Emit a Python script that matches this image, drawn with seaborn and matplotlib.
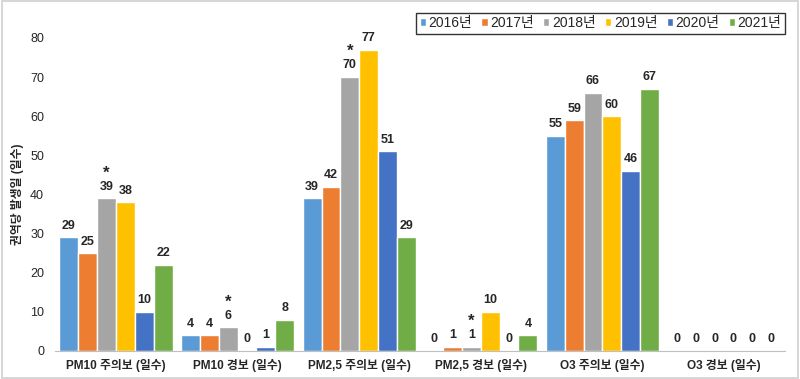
import numpy as np
import pandas as pd
import seaborn as sns
import matplotlib.pyplot as plt
from matplotlib.patches import Rectangle

# data
categories = ["PM10 주의보 (일수)", "PM10 경보 (일수)", "PM2,5 주의보 (일수)",
              "PM2,5 경보 (일수)", "O3 주의보 (일수)", "O3 경보 (일수)"]
years = ["2016년", "2017년", "2018년", "2019년", "2020년", "2021년"]
v2016 = [29, 4, 39, 0, 55, 0]
v2017 = [25, 4, 42, 1, 59, 0]
v2018 = [39, 6, 70, 1, 66, 0]
v2019 = [38, 0, 77, 10, 60, 0]
v2020 = [10, 1, 51, 0, 46, 0]
v2021 = [22, 8, 29, 4, 67, 0]
star_2018 = [True, True, True, True, False, False]
colors = ["#5B9BD5", "#ED7D31", "#A5A5A5", "#FFC000", "#4472C4", "#70AD47"]

rows = []
for y, vals in zip(years, [v2016, v2017, v2018, v2019, v2020, v2021]):
    for c, v in zip(categories, vals):
        rows.append({"cat": c, "year": y, "days": v})
df = pd.DataFrame(rows)

sns.set_style("white")
plt.rcParams['font.family'] = ['Liberation Sans', 'Noto Sans CJK KR', 'DejaVu Sans']

fig = plt.figure(figsize=(8, 3.79), dpi=100)
ax = fig.add_axes([0.069, 0.074, 0.912, 0.826])

sns.barplot(data=df, x="cat", y="days", hue="year", palette=colors,
            order=categories, hue_order=years, width=0.93, gap=0,
            saturation=1, errorbar=None, ax=ax, legend=True)

ax.set_ylim(0, 80)
ax.set_xlim(-0.5, len(categories) - 0.5)
ax.set_yticks(range(0, 81, 10))
ax.tick_params(axis='y', length=0, labelsize=9, pad=8)
ax.tick_params(axis='x', length=0, labelsize=8.5, pad=6)
for t in ax.get_xticklabels():
    t.set_fontweight('bold')
ax.set_xlabel("")
ax.set_ylabel("권역당 발생일 (일수)", fontsize=8.5, fontweight='bold')
ax.yaxis.set_label_coords(-0.043, 0.5)
for s in ["top", "right", "left"]:
    ax.spines[s].set_visible(False)
ax.spines["bottom"].set_color("#bfbfbf")

# value labels
for i, cont in enumerate(ax.containers):
    ax.bar_label(cont, fmt="%d", padding=4, fontsize=9, fontweight='bold',
                 clip_on=False)
    if years[i] == "2018년":
        for bar, st in zip(cont, star_2018):
            if st:
                ax.annotate("*", (bar.get_x() + bar.get_width() / 2, bar.get_height()),
                            xytext=(0, 13), textcoords="offset points",
                            ha="center", va="bottom", fontsize=12, fontweight='bold')

# legend
h, l = ax.get_legend_handles_labels()
ax.get_legend().remove()
leg = fig.legend(h, l, loc="upper right", bbox_to_anchor=(0.99, 0.985), ncol=6,
                 frameon=True, fancybox=False, edgecolor="black", fontsize=10,
                 handlelength=0.45, handleheight=0.45, handletextpad=0.2,
                 columnspacing=0.65, borderpad=0.25)
leg.get_frame().set_linewidth(1.0)

fig.patches.append(Rectangle((0.002, 0.003), 0.996, 0.994, transform=fig.transFigure,
                             fill=False, edgecolor="#d0d0d0", linewidth=1.2))

fig.savefig("out.png", dpi=100)
